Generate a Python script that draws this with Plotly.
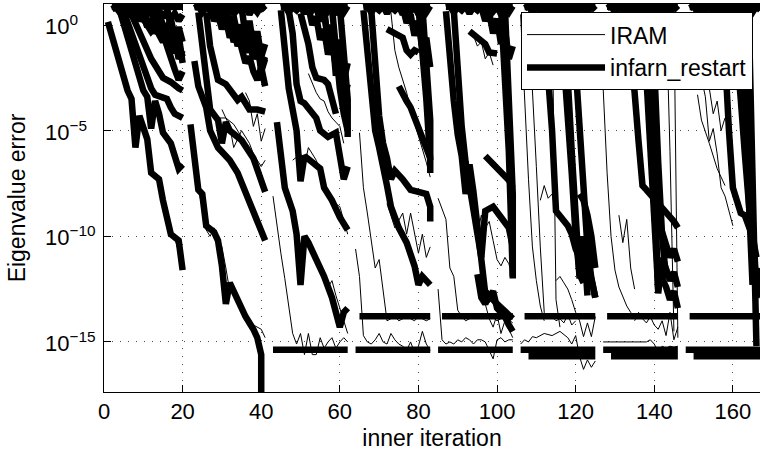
import plotly.graph_objects as go

# ---------------- data (y values are log10 of the eigenvalue error) ----------------
X_TICKS = [0, 20, 40, 60, 80, 100, 120, 140, 160]
Y_TICK_EXP = [0, -5, -10, -15]
Y_TICK_TEXT = ["10<sup>0</sup>", "10<sup>\u22125</sup>", "10<sup>\u221210</sup>", "10<sup>\u221215</sup>"]

# ---- cycle 0 (iterations 1-20)
IRAM_C0 = [
    ([1, 3, 5, 7, 8, 9, 11, 12, 14, 16, 18, 20], [0.1, -1.3, -2.5, -3.6, -5.5, -4.4, -5.5, -6.9, -7.4, -9.0, -10.1, -11.4]),
    ([4, 6, 8, 10, 12, 13, 14, 16, 18, 20], [0.7, -0.6, -1.8, -3.0, -4.6, -3.7, -4.3, -5.3, -6.3, -6.7]),
    ([5, 8, 10, 12, 14, 16, 18, 20], [0.6, -0.9, -2.1, -3.1, -3.4, -3.6, -4.1, -4.3]),
]
INFARN_C0 = [
    ([1, 3, 5, 6, 7, 8, 9, 11, 12, 14, 15, 17, 19, 20], [0.15, -1.2, -2.4, -3.1, -3.5, -5.8, -4.3, -5.4, -7.0, -7.3, -8.3, -9.9, -10.2, -11.6]),
    ([4, 6, 8, 10, 11, 12, 13, 14, 15, 17, 18, 19, 20], [0.7, -0.5, -1.9, -3.1, -3.4, -4.9, -3.6, -4.2, -5.1, -5.6, -6.2, -6.8, -6.6]),
    ([5, 8, 10, 12, 13, 16, 17, 18, 20], [0.65, -0.9, -2.0, -3.0, -3.3, -3.5, -3.9, -4.2, -4.4]),
    ([7, 10, 12, 15, 17, 19, 20], [0.5, -0.7, -1.6, -2.5, -2.7, -3.0, -3.1]),
    ([2, 3, 4, 5, 6, 7, 8, 9, 10, 11, 12, 13, 14, 15, 16, 17, 18, 19, 20],
     [0.75, 0.85, 0.6, 0.85, 0.7, 0.9, 0.6, 0.85, 0.75, 0.5, 0.85, 0.45, 0.7, 0.35, 0.65, 0.3, 0.55, 0.2, 0.5]),
    ([2, 3, 4, 5, 6, 7, 8, 9, 10, 11, 12, 13, 14, 15, 16, 17, 18, 19, 20],
     [0.86, 0.84, 0.88, 0.85, 0.87, 0.84, 0.88, 0.85, 0.86, 0.84, 0.87, 0.85, 0.88, 0.84, 0.86, 0.85, 0.87, 0.84, 0.86]),
    ([6, 7, 8, 9, 10, 11, 12, 13, 14, 15, 16, 17, 18, 19, 20], [0.85, 0.4, 0.7, 0.2, 0.5, -0.1, 0.3, -0.4, 0.0, -0.7, -0.3, -1.1, -0.6, -1.6, -1.2]),
    ([9, 10, 11, 12, 13, 14, 15, 16, 17, 18, 19, 20], [0.85, 0.3, 0.0, -0.3, -0.1, -0.5, -0.8, -0.4, -1.0, -1.3, -0.9, -1.5]),
    ([11, 12, 13, 14, 15, 16, 17, 18, 19, 20], [0.85, 0.6, 0.2, 0.5, 0.0, -0.2, 0.3, -0.6, -0.1, -0.8]),
    ([13, 14, 15, 16, 17, 18, 19, 20], [0.7, 0.1, -0.4, -0.9, -1.5, -2.1, -2.6, -2.2]),
    ([16, 17, 18, 19, 20], [0.85, -0.3, -1.1, -0.5, -1.8]),
]

# ---- cycle 1 (iterations 22-41)
IRAM_C1 = [
    ([30, 32, 33, 35, 37, 38, 40, 41], [-4.0, -4.8, -5.8, -5.0, -5.6, -6.1, -6.7, -6.4]),
    ([22, 24, 26, 27, 28, 30, 31, 32, 34, 36, 38, 40, 41], [-4.8, -7.7, -9.7, -10.0, -9.6, -10.5, -11.5, -12.6, -12.8, -13.6, -14.2, -14.4, -14.8]),
    ([36, 37, 38, 39, 40, 41], [-3.2, -3.6, -4.8, -4.2, -5.5, -4.9]),
    ([24, 26, 27, 29, 31, 33, 35, 37, 39, 41], [0.5, -2.5, -3.9, -4.4, -4.4, -4.7, -5.3, -6.1, -6.9, -7.7]),
]
INFARN_C1 = [
    ([22, 24, 25, 26, 28, 29, 30, 31, 32, 34, 36, 38, 39, 40, 40], [-4.7, -7.8, -8.0, -9.5, -9.8, -10.2, -11.4, -13.2, -12.2, -13.0, -13.8, -14.4, -14.8, -15.6, -19.0]),
    ([23, 24, 26, 27, 29, 32, 34, 37, 39, 40, 41], [-1.7, -2.9, -3.9, -5.0, -5.8, -6.4, -7.0, -8.3, -9.2, -9.7, -10.2]),
    ([24, 26, 27, 29, 30, 31, 32, 35, 38, 41], [0.6, -2.4, -4.0, -4.5, -5.6, -4.6, -5.0, -5.45, -6.3, -7.9]),
    ([26, 27, 29, 31, 34, 35, 37, 39, 41], [0.6, -1.0, -2.6, -2.8, -3.55, -3.4, -4.0, -4.0, -4.1]),
    ([23, 24, 25, 26, 27, 28, 29, 30, 31, 32, 33, 34, 35, 36, 37, 38, 39, 40, 41],
     [0.8, 0.9, 0.6, 0.85, 0.7, 0.9, 0.55, 0.85, 0.7, 0.9, 0.5, 0.8, 0.65, 0.9, 0.5, 0.85, 0.6, 0.9, 0.7]),
    ([23, 24, 25, 26, 27, 28, 29, 30, 31, 32, 33, 34, 35, 36, 37, 38, 39, 40, 41],
     [0.85, 0.87, 0.84, 0.88, 0.85, 0.86, 0.84, 0.87, 0.85, 0.88, 0.84, 0.86, 0.85, 0.87, 0.84, 0.88, 0.85, 0.86, 0.84]),
    ([27, 28, 29, 30, 31, 32, 33, 34, 35, 36, 37, 38, 39, 40, 41], [0.85, 0.2, 0.5, -0.2, 0.3, -0.6, -0.2, -1.0, -0.5, -1.3, -0.8, -1.6, -1.1, -1.9, -1.5]),
    ([29, 30, 31, 32, 33, 34, 35, 36, 37, 38, 39, 40, 41], [0.85, 0.3, 0.6, 0.0, 0.4, -0.5, 0.0, -0.9, -0.3, -1.4, -0.8, -2.2, -1.6]),
    ([31, 32, 33, 34, 35, 36, 37, 38, 39, 40, 41], [0.8, 0.0, -0.8, -0.4, -1.2, -1.8, -1.5, -2.2, -2.6, -2.0, -2.9]),
    ([35, 36, 37, 38, 39, 40, 41], [0.85, -0.5, 0.2, -1.0, -0.3, -1.5, -0.9]),
]

# ---- cycle 2 (iterations 43-62)
IRAM_C2 = [
    ([43, 44, 45, 46, 47, 48, 49, 50, 51, 52, 53, 54, 55, 56, 57, 58, 59, 60, 61, 62],
     [-8.1, -9.5, -10.8, -12.0, -13.3, -14.6, -15.1, -14.6, -15.6, -14.6, -15.6, -15.6, -14.8, -15.3, -15.0, -14.8, -15.3, -15.0, -14.8, -15.0]),
    ([48, 50, 51, 52, 54, 55, 57, 60, 62], [-6.4, -6.1, -6.7, -5.8, -6.4, -6.9, -8.2, -8.6, -9.9]),
    ([52, 53, 54, 55, 56, 57, 58, 59, 60, 61], [-2.3, -2.8, -3.2, -3.5, -3.6, -4.1, -4.4, -4.6, -4.8, -5.6]),
    ([55, 56, 57, 58, 59, 60, 61, 62], [-11.5, -11.9, -12.4, -12.1, -12.8, -13.4, -13.9, -14.6]),
]
INFARN_C2 = [
    ([43, 62], [-15.37, -15.37]),
    ([44, 46, 48, 49, 50, 51, 52, 54, 56, 58, 60, 61, 62], [-4.6, -7.7, -8.8, -9.9, -12.3, -10.0, -10.3, -11.1, -11.9, -12.9, -14.3, -13.6, -13.4]),
    ([45, 46, 47, 48, 49, 50, 51, 53, 55, 56, 58, 60, 62], [0.7, -1.5, -3.0, -4.0, -5.0, -7.4, -6.2, -6.5, -6.8, -7.7, -8.3, -9.1, -9.7]),
    ([47, 48, 49, 50, 51, 54, 55, 57, 59, 60, 61, 62], [0.7, -0.4, -2.8, -3.6, -3.7, -4.4, -5.0, -5.3, -5.1, -6.4, -7.3, -6.7]),
    ([50, 52, 53, 54, 56, 57, 59], [0.55, -0.9, -2.0, -2.5, -2.6, -2.8, -4.2]),
    ([45, 46, 47, 48, 49, 50, 51, 52, 53, 54, 55, 56, 57, 58, 59, 60, 61, 62],
     [0.85, 0.9, 0.6, 0.85, 0.7, 0.9, 0.55, 0.85, 0.7, 0.9, 0.5, 0.8, 0.65, 0.9, 0.5, 0.85, 0.6, 0.9]),
    ([45, 46, 47, 48, 49, 50, 51, 52, 53, 54, 55, 56, 57, 58, 59, 60, 61, 62],
     [0.86, 0.84, 0.87, 0.85, 0.88, 0.84, 0.86, 0.85, 0.87, 0.84, 0.88, 0.85, 0.86, 0.84, 0.87, 0.85, 0.88, 0.84]),
    ([52, 53, 54, 55, 56, 57, 58, 59, 60, 61, 62], [0.85, 0.0, 0.4, -0.7, -0.2, -1.4, -0.8, -2.0, -1.2, -2.6, -1.8]),
    ([54, 55, 56, 57, 58, 59, 60, 61, 62], [0.85, 0.2, 0.5, -0.6, 0.0, -1.5, -0.7, -2.8, -4.0]),
    ([56, 57, 58, 59, 60, 61, 62], [0.85, -1.0, -0.2, -2.4, -1.0, -3.5, -2.8]),
    ([58, 59, 60, 61, 62], [0.8, -1.5, -3.0, -4.2, -5.0]),
    ([60, 61, 62, 62], [0.85, -1.5, -3.5, -5.3]),
]

# ---- cycle 3 (iterations 64-83)
IRAM_C3 = [
    ([65, 66, 67, 69, 70, 71, 72, 73, 74, 75, 76, 77, 78, 79, 80, 81, 82, 83],
     [-5.1, -7.7, -8.9, -11.5, -11.1, -12.7, -14.0, -13.9, -13.8, -14.0, -13.9, -13.8, -13.9, -14.0, -13.8, -13.9, -14.0, -13.9]),
    ([64, 65, 66, 67, 68, 69, 70, 71, 72, 73, 74, 75, 76, 77, 78, 79, 80, 81, 82, 83],
     [-10.6, -11.9, -14.7, -15.0, -15.1, -14.9, -14.6, -15.0, -15.1, -14.6, -14.9, -15.1, -15.2, -15.4, -15.0, -15.5, -15.2, -14.5, -15.1, -15.4]),
    ([72, 74, 76, 77, 78, 80, 81, 82, 83], [-8.45, -9.6, -8.9, -9.9, -8.9, -10.8, -9.9, -11.0, -10.5]),
    ([73, 74, 75, 76, 77, 78, 79, 80, 81, 82, 83], [0.6, -1.2, -2.0, -2.6, -3.2, -4.0, -4.6, -5.3, -5.9, -6.5, -7.2]),
]
INFARN_C3 = [
    ([64, 83], [-15.37, -15.37]),
    ([65, 83], [-13.78, -13.78]),
    ([66, 67, 68, 69, 70, 71, 72, 73, 75, 77, 78, 79, 80, 81, 82, 83], [0.7, -1.5, -3.5, -5.0, -5.8, -6.6, -7.6, -8.6, -9.6, -10.3, -10.8, -11.4, -12.3, -11.9, -12.1, -12.3]),
    ([68, 69, 70, 71, 72, 73, 74, 76, 78, 80, 82, 83, 83], [0.7, -2.0, -4.3, -5.6, -6.3, -7.3, -6.9, -7.3, -7.8, -7.9, -8.0, -8.6, -9.3]),
    ([75, 76, 77, 78, 79, 80, 81, 82, 83], [-2.9, -3.3, -3.6, -3.9, -4.4, -5.0, -5.4, -5.8, -6.3]),
    ([72, 74, 76, 77, 78, 79, 80], [-0.2, -0.4, -0.6, -1.2, -1.4, -1.2, -1.3]),
    ([80, 81, 82, 83], [0.85, -1.0, -3.5, -6.4]),
    ([81, 82, 83, 83], [0.85, -2.0, -4.5, -7.0]),
    ([66, 67, 68, 69, 70, 71, 72, 73, 74, 75, 76, 77, 78, 79, 80, 81, 82, 83],
     [0.85, 0.9, 0.6, 0.85, 0.7, 0.9, 0.55, 0.85, 0.7, 0.9, 0.5, 0.8, 0.65, 0.9, 0.5, 0.85, 0.6, 0.9]),
    ([66, 67, 68, 69, 70, 71, 72, 73, 74, 75, 76, 77, 78, 79, 80, 81, 82, 83],
     [0.85, 0.87, 0.84, 0.88, 0.85, 0.86, 0.84, 0.87, 0.85, 0.88, 0.84, 0.86, 0.85, 0.87, 0.84, 0.88, 0.85, 0.86]),
    ([76, 77, 78, 79, 80, 81, 82, 83], [0.85, 0.1, 0.5, -0.5, 0.2, -1.2, -0.6, -2.0]),
]

# ---- cycle 4 (iterations 85-104)
IRAM_C4 = [
    ([85, 87, 88, 89, 90, 91, 92, 94, 96, 98, 100, 102, 104], [-8.2, -9.2, -11.5, -11.9, -13.5, -13.8, -14.0, -13.8, -13.9, -13.7, -14.0, -13.8, -14.1]),
    ([85, 86, 87, 88, 89, 90, 91, 92, 93, 94, 95, 96, 97, 98, 99, 100, 101, 102, 103, 104],
     [-12.5, -14.9, -15.1, -15.0, -15.1, -14.9, -15.0, -14.8, -14.9, -15.1, -14.9, -14.9, -15.0, -15.4, -15.8, -14.9, -14.8, -15.0, -14.9, -14.9]),
    ([95, 96, 97, 98, 99, 100, 101, 102, 103, 104], [-9.9, -9.0, -9.6, -9.3, -10.2, -11.1, -11.4, -11.0, -11.3, -11.9]),
    ([94, 95, 96, 97, 98, 99], [-0.5, -1.0, -0.8, -1.6, -1.3, -1.9]),
    ([97, 98, 99, 100, 101, 102, 103, 104], [-13.2, -13.9, -14.3, -13.7, -14.6, -14.0, -14.4, -14.8]),
]
INFARN_C4 = [
    ([85, 104], [-15.37, -15.37]),
    ([86, 104], [-13.78, -13.78]),
    ([87, 88, 89, 90, 91, 92, 93, 94, 95, 96, 97, 98, 99, 100, 101, 102, 103, 104],
     [0.65, -1.8, -3.6, -5.2, -6.2, -8.0, -6.6, -7.9, -9.6, -10.8, -12.7, -12.9, -12.6, -13.4, -13.6, -13.8, -14.2, -14.5]),
    ([89, 90, 91, 92, 93, 94, 95, 96, 97, 99, 101, 103, 104], [0.7, -2.5, -4.8, -6.5, -7.6, -8.6, -9.6, -11.0, -8.8, -8.6, -9.1, -9.6, -10.5]),
    ([97, 99, 101, 103, 104], [-6.2, -6.55, -6.9, -7.35, -7.7]),
    ([93, 95, 97, 98, 100], [-0.3, -0.6, -0.9, -1.3, -1.35]),
    ([101, 102, 103, 104], [0.85, -2.0, -6.0, -11.9]),
    ([102, 103, 104, 104], [0.85, -3.5, -8.0, -12.0]),
    ([95, 96, 97, 98, 100, 102, 104], [-11.8, -12.9, -13.2, -12.8, -13.2, -13.6, -13.9]),
    ([87, 88, 89, 90, 91, 92, 93, 94, 95, 96, 97, 98, 99, 100, 101, 102, 103, 104],
     [0.85, 0.9, 0.6, 0.85, 0.7, 0.9, 0.55, 0.85, 0.7, 0.9, 0.5, 0.8, 0.65, 0.9, 0.5, 0.85, 0.6, 0.9]),
    ([87, 88, 89, 90, 91, 92, 93, 94, 95, 96, 97, 98, 99, 100, 101, 102, 103, 104],
     [0.86, 0.84, 0.88, 0.85, 0.87, 0.84, 0.86, 0.85, 0.88, 0.84, 0.87, 0.85, 0.86, 0.84, 0.88, 0.85, 0.87, 0.84]),
    ([96, 97, 98, 99, 100, 101, 102, 103, 104], [0.85, 0.2, 0.6, -0.4, 0.3, -0.9, -0.2, -1.6, -1.0]),
]

# ---- cycle 5 (iterations 106-125)
IRAM_C5 = [
    ([106, 107, 108, 109, 110, 111, 112], [0.5, -3.5, -7.3, -10.5, -12.1, -13.3, -14.0]),
    ([108, 109, 110, 111, 112], [0.5, -2.8, -6.7, -10.5, -13.6]),
    ([106, 107, 108, 109, 110, 112, 114, 116, 118, 119, 120, 121, 122, 123, 124, 125],
     [-15.1, -14.9, -15.0, -14.75, -14.8, -14.6, -14.7, -14.5, -14.8, -15.1, -14.7, -15.7, -16.3, -15.85, -16.2, -15.9]),
    ([115, 116, 117, 118, 119, 120, 121, 122, 123, 124, 125], [-12.1, -11.9, -12.2, -12.5, -13.0, -13.6, -14.0, -14.75, -14.1, -14.75, -13.8]),
    ([114, 115, 116], [0.8, -13.0, -14.3]),
    ([111, 112, 113, 114, 115], [-8.3, -7.6, -8.2, -8.0, -8.9]),
    ([112, 113, 114, 115, 116, 117, 118, 119, 120], [-13.6, -13.9, -13.8, -14.0, -13.9, -14.1, -13.7, -14.2, -14.0]),
]
INFARN_C5 = [
    ([106, 125], [-15.37, -15.37]),
    ([107, 125], [-13.78, -13.78]),
    ([108, 125], [-15.68, -15.68]),
    ([111, 112, 113, 114, 115, 116, 117, 118, 119, 120, 121, 122, 123], [0.85, -0.5, -2.5, -5.0, -8.8, -9.0, -9.3, -9.5, -9.9, -10.6, -11.0, -11.4, -11.8]),
    ([116, 117, 118, 119, 120, 121, 122], [0.85, -1.5, -4.0, -7.0, -10.0, -11.8, -12.2]),
    ([117, 118, 119, 120, 121, 122, 123], [0.85, -3.0, -6.0, -9.0, -12.0, -10.0, -12.8]),
    ([119, 120, 121, 122, 123, 124, 125], [0.85, -2.0, -5.5, -8.0, -10.5, -12.0, -12.9]),
    ([121, 122, 123, 124, 125], [-8.0, -8.3, -9.0, -10.0, -11.5]),
    ([121, 122, 123, 124, 125], [-10.3, -10.8, -11.3, -12.0, -12.9]),
    ([107, 108, 109, 110, 111, 112, 113, 114, 115, 116, 117, 118, 119, 120, 121, 122, 123, 124, 125],
     [0.8, 0.9, 0.6, 0.85, 0.7, 0.9, 0.55, 0.85, 0.7, 0.9, 0.5, 0.8, 0.65, 0.9, 0.5, 0.85, 0.6, 0.9, 0.7]),
    ([107, 108, 109, 110, 111, 112, 113, 114, 115, 116, 117, 118, 119, 120, 121, 122, 123, 124, 125],
     [0.85, 0.87, 0.84, 0.86, 0.88, 0.85, 0.84, 0.87, 0.85, 0.86, 0.84, 0.88, 0.85, 0.87, 0.84, 0.86, 0.85, 0.88, 0.84]),
]

# ---- cycle 6 (iterations 127-146)
IRAM_C6 = [
    ([127, 128, 129, 130, 131, 132, 133, 134, 135, 136], [-3.0, -7.0, -10.0, -11.6, -12.4, -12.9, -13.3, -13.6, -13.8, -13.9]),
    ([131, 132, 133, 134, 135], [-9.0, -10.3, -9.2, -11.5, -12.5]),
    ([135, 136, 137, 138, 139, 140, 141, 142, 143, 144, 145, 146], [-14.0, -13.6, -13.9, -14.1, -13.8, -14.2, -14.4, -14.0, -14.7, -13.6, -14.9, -14.3]),
    ([127, 130, 133, 136, 138, 139, 140, 141, 142, 143, 144, 145, 146], [-15.0, -15.0, -15.0, -15.0, -15.0, -14.9, -15.1, -15.5, -15.2, -15.3, -15.2, -15.25, -15.2]),
    ([143, 144, 145], [0.8, -6.0, -14.5]),
    ([145, 146], [0.8, -14.8]),
]
INFARN_C6 = [
    ([127, 146], [-15.37, -15.37]),
    ([128, 146], [-13.78, -13.78]),
    ([129, 146], [-15.68, -15.68]),
    ([133, 134, 135, 136, 137, 138, 139, 140, 141, 142, 143, 144, 145, 146], [0.85, -1.0, -3.2, -5.5, -7.6, -7.8, -8.0, -8.2, -8.4, -8.6, -8.8, -9.0, -9.3, -9.6]),
    ([138, 139, 140, 141, 142], [0.85, -3.0, -7.0, -12.7, -11.0]),
    ([139, 140, 141, 142, 143], [0.85, -2.0, -6.5, -10.0, -12.0]),
    ([137, 138, 139, 140, 141], [0.85, -2.5, -5.5, -9.0, -12.5]),
    ([142, 143, 144, 145, 146], [-9.8, -10.4, -11.0, -10.6, -11.2]),
    ([142, 143, 144, 145, 146], [-11.0, -11.5, -12.1, -11.7, -12.4]),
    ([142, 143, 144, 145, 146], [-12.0, -12.4, -13.0, -12.6, -13.4]),
    ([128, 129, 130, 131, 132, 133, 134, 135, 136, 137, 138, 139, 140, 141, 142, 143, 144, 145, 146],
     [0.8, 0.9, 0.6, 0.85, 0.7, 0.9, 0.55, 0.85, 0.7, 0.9, 0.5, 0.8, 0.65, 0.9, 0.5, 0.85, 0.6, 0.9, 0.7]),
    ([128, 129, 130, 131, 132, 133, 134, 135, 136, 137, 138, 139, 140, 141, 142, 143, 144, 145, 146],
     [0.86, 0.84, 0.87, 0.85, 0.88, 0.84, 0.86, 0.85, 0.87, 0.84, 0.88, 0.85, 0.86, 0.84, 0.87, 0.85, 0.88, 0.84, 0.86]),
]

# ---- cycle 7 (iterations 148-167)
IRAM_C7 = [
    ([152, 153, 154, 155, 156, 157, 158, 159, 160], [-2.5, -3.4, -5.5, -4.9, -6.1, -7.7, -8.1, -8.8, -9.5]),
    ([151, 152, 154, 156, 158], [-3.3, -4.5, -5.6, -6.8, -7.6]),
    ([154, 155, 156, 157, 158], [-3.0, -4.2, -3.6, -5.0, -4.4]),
]
INFARN_C7 = [
    ([148, 167], [-15.37, -15.37]),
    ([149, 167], [-13.78, -13.78]),
    ([150, 167], [-15.68, -15.68]),
    ([157, 158, 159, 160, 161, 162, 163, 164, 165, 166], [0.85, -1.5, -5.0, -7.7, -8.3, -8.9, -9.0, -9.6, -10.0, -11.0]),
    ([160, 161, 162, 163, 164, 165, 166, 167], [0.85, -1.0, -3.5, -6.0, -8.5, -11.0, -12.9, -12.0]),
    ([162, 163, 164, 165, 166, 167], [0.85, -2.5, -6.0, -9.0, -12.5, -11.5]),
    ([161, 162, 163, 164, 165], [0.85, -2.0, -4.5, -8.0, -12.3]),
    ([164, 165, 166], [0.85, -7.0, -15.2]),
    ([149, 150, 151, 152, 153, 154, 155, 156, 157, 158, 159, 160, 161, 162, 163, 164, 165, 166, 167],
     [0.8, 0.9, 0.6, 0.85, 0.7, 0.9, 0.55, 0.85, 0.7, 0.9, 0.5, 0.8, 0.65, 0.9, 0.5, 0.85, 0.6, 0.9, 0.7]),
    ([149, 150, 151, 152, 153, 154, 155, 156, 157, 158, 159, 160, 161, 162, 163, 164, 165, 166, 167],
     [0.85, 0.87, 0.84, 0.86, 0.88, 0.85, 0.84, 0.87, 0.85, 0.86, 0.84, 0.88, 0.85, 0.87, 0.84, 0.86, 0.85, 0.88, 0.84]),
]

IRAM_CYCLES = [IRAM_C0, IRAM_C1, IRAM_C2, IRAM_C3, IRAM_C4, IRAM_C5, IRAM_C6, IRAM_C7]
INFARN_CYCLES = [INFARN_C0, INFARN_C1, INFARN_C2, INFARN_C3, INFARN_C4, INFARN_C5, INFARN_C6, INFARN_C7]

# ---------------- figure ----------------
FONT = "Liberation Sans, Arial, Helvetica, sans-serif"
fig = go.Figure()


def add_series(cycles, name, width):
    first = True
    for curves in cycles:
        for xs, exps in curves:
            fig.add_trace(go.Scatter(
                x=xs, y=[10.0 ** e for e in exps], mode="lines",
                line=dict(color="black", width=width),
                name=name, showlegend=first,
                hoverinfo="skip"))
            first = False


add_series(IRAM_CYCLES, "IRAM", 1)
add_series(INFARN_CYCLES, "infarn_restart", 6.5)

grid = dict(showgrid=True, gridcolor="rgba(0,0,0,0.7)", griddash="1px,7px", gridwidth=1)

fig.update_layout(
    width=760, height=459,
    margin=dict(l=104, r=0, t=4, b=67),
    paper_bgcolor="white", plot_bgcolor="white",
    font=dict(family=FONT, size=22, color="black"),
    legend=dict(x=0.6357, y=0.979, xanchor="left", yanchor="top",
                bgcolor="white", bordercolor="black", borderwidth=1,
                font=dict(family=FONT, size=23, color="black"),
                itemwidth=78, tracegroupgap=0),
    xaxis=dict(range=[0, 166.9], tickmode="array", tickvals=X_TICKS,
               ticks="inside", ticklen=7, tickcolor="black",
               showline=True, linecolor="black", linewidth=1, mirror="ticks",
               zeroline=False, automargin=False,
               tickfont=dict(family=FONT, size=22),
               title=dict(text="inner iteration", font=dict(family=FONT, size=23), standoff=6),
               **grid),
    yaxis=dict(type="log", range=[-17.37, 0.994], tickmode="array",
               tickvals=[10.0 ** e for e in Y_TICK_EXP], showticklabels=False,
               ticks="inside", ticklen=7, tickcolor="black",
               showline=True, linecolor="black", linewidth=1,
               zeroline=False, automargin=False,
               title=dict(text="Eigenvalue error", font=dict(family=FONT, size=23), standoff=70),
               **grid),
)

for e, txt in zip(Y_TICK_EXP, Y_TICK_TEXT):
    fig.add_annotation(x=-0.093, xref="paper", y=e, yref="y", text=txt,
                       showarrow=False, xanchor="left", yanchor="middle",
                       font=dict(family=FONT, size=22, color="black"))

fig.write_html("out.html", config={"displayModeBar": False},
               post_script="document.body.style.margin='0';document.body.style.overflow='hidden';")
